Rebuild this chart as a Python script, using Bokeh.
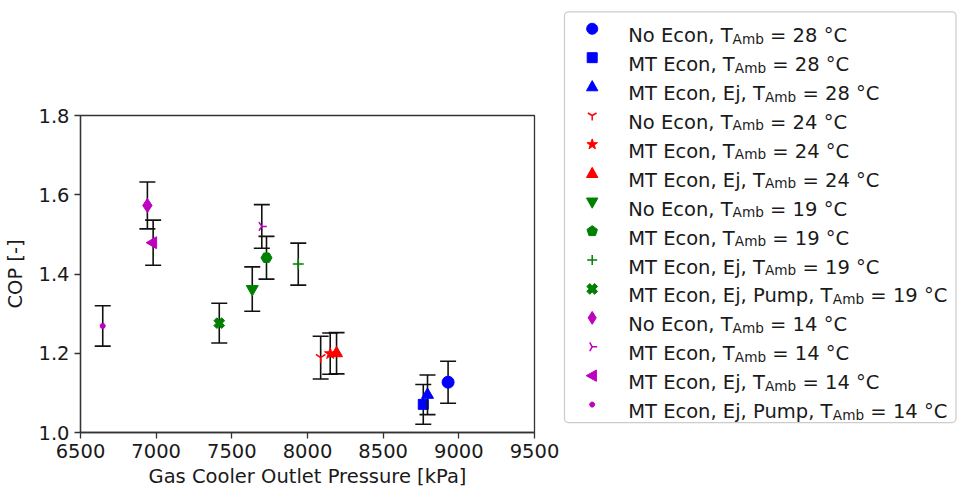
import math
from bokeh.plotting import figure
from bokeh.models import Range1d, FixedTicker, PrintfTickFormatter, ColumnDataSource
from bokeh.core.properties import value
from bokeh.embed import file_html
from bokeh.resources import INLINE

# ---------------- data ----------------
configs = ["No Econ", "MT Econ", "MT Econ, Ej",
           "No Econ", "MT Econ", "MT Econ, Ej",
           "No Econ", "MT Econ", "MT Econ, Ej", "MT Econ, Ej, Pump",
           "No Econ", "MT Econ", "MT Econ, Ej", "MT Econ, Ej, Pump"]
t_amb = [28, 28, 28, 24, 24, 24, 19, 19, 19, 19, 14, 14, 14, 14]
pressure = [8929, 8765, 8793, 8087, 8150, 8192, 7635, 7729, 7939, 7417, 6942, 7698, 6980, 6647]
cop = [1.127, 1.071, 1.095, 1.189, 1.199, 1.200, 1.362, 1.441, 1.425, 1.276, 1.573, 1.520, 1.479, 1.269]
cop_err = [0.053, 0.050, 0.050, 0.054, 0.052, 0.052, 0.056, 0.054, 0.053, 0.050, 0.059, 0.055, 0.057, 0.051]
x_ticks = [6500, 7000, 7500, 8000, 8500, 9000, 9500]
y_ticks = [1.0, 1.2, 1.4, 1.6, 1.8]

# ---------------- styles ----------------
temp_colors = {28: "#0000ff", 24: "#ff0000", 19: "#008000", 14: "#bf00bf"}
# (bokeh marker, size, angle, line_only, legend shape)
marker_styles = [
    ("circle", 12, 0.0, False, "circle"),
    ("square", 10, 0.0, False, "square"),
    ("triangle", 12, 0.0, False, "tri_up"),
    ("y", 11, 0.0, True, "y_down"),
    ("star", 12, 0.0, False, "star"),
    ("triangle", 12, 0.0, False, "tri_up"),
    ("inverted_triangle", 12, 0.0, False, "tri_down"),
    ("hex", 11, 0.0, False, "pentagon"),
    ("cross", 11, 0.0, True, "plus"),
    ("plus", 11, math.pi / 4, False, "xfilled"),
    ("diamond", 14, 0.0, False, "diamond"),
    ("y", 10, math.pi / 2, True, "y_right"),
    ("triangle", 12, math.pi / 2, False, "tri_left"),
    ("circle", 5, 0.0, False, "dot"),
]

FONT = "DejaVu Sans"
FS = 19.5
TXT = "#1a1a1a"

W, H = 957, 490
FL, FT, FW, FH = 80, 115, 454, 318   # frame left, top, width, height (px)
X0, X1 = 6500, 9500
Y0, Y1 = 1.0, 1.8

# ---------------- main plot ----------------
p = figure(width=W, height=H, x_range=Range1d(X0, X1), y_range=Range1d(Y0, Y1),
           output_backend="svg", toolbar_location=None,
           min_border_left=FL, min_border_right=W - FL - FW,
           min_border_top=FT, min_border_bottom=H - FT - FH)
p.grid.visible = False
p.background_fill_color = "white"
p.border_fill_color = "white"
p.outline_line_color = "#333333"
p.outline_line_width = 1.3

for ax in (p.xaxis[0], p.yaxis[0]):
    ax.axis_line_color = "#333333"
    ax.axis_line_width = 1.3
    ax.major_tick_line_color = "#333333"
    ax.major_tick_line_width = 1.3
    ax.major_tick_in = 0
    ax.major_tick_out = 6
    ax.minor_tick_line_color = None
    ax.major_label_text_font = FONT
    ax.major_label_text_font_size = f"{FS}px"
    ax.major_label_text_color = TXT
    ax.major_label_standoff = 5
    ax.axis_label_text_font = FONT
    ax.axis_label_text_font_size = f"{FS}px"
    ax.axis_label_text_font_style = "normal"
    ax.axis_label_text_color = TXT

p.xaxis.ticker = FixedTicker(ticks=x_ticks)
p.yaxis.ticker = FixedTicker(ticks=y_ticks)
p.yaxis.formatter = PrintfTickFormatter(format="%.1f")
p.xaxis.axis_label = "Gas Cooler Outlet Pressure [kPa]"
p.yaxis.axis_label = "COP [-]"
p.xaxis.axis_label_standoff = 4
p.yaxis.axis_label_standoff = 8

for i in range(len(pressure)):
    col = temp_colors[t_amb[i]]
    mk, sz, ang, line_only, _ = marker_styles[i]
    lo = cop[i] - cop_err[i]
    hi = cop[i] + cop_err[i]
    src = ColumnDataSource(dict(x=[pressure[i]], y=[cop[i]], lo=[lo], hi=[hi]))
    p.segment(x0="x", y0="lo", x1="x", y1="hi", source=src, line_color="#111111", line_width=1.6)
    p.scatter(x="x", y="lo", source=src, marker="dash", size=16, line_color="#111111", line_width=1.6)
    p.scatter(x="x", y="hi", source=src, marker="dash", size=16, line_color="#111111", line_width=1.6)
    if line_only:
        p.scatter(x="x", y="y", source=src, marker=mk, size=sz, angle=ang,
                  line_color=col, line_width=1.5, fill_color=None)
    else:
        p.scatter(x="x", y="y", source=src, marker=mk, size=sz, angle=ang,
                  line_color=col, fill_color=col)


# ---------------- legend (unclipped overlay glyphs outside the frame) ----------------
def sx(px):
    return X0 + (px - FL) * (X1 - X0) / FW


def sy(py):
    return Y1 - (py - FT) * (Y1 - Y0) / FH


def ring(n, r, start=-90.0, inner=None):
    pts = []
    for k in range(n):
        a = math.radians(start + 360.0 * k / n)
        pts.append((r * math.cos(a), r * math.sin(a)))
        if inner is not None:
            a2 = math.radians(start + 360.0 * (k + 0.5) / n)
            pts.append((inner * math.cos(a2), inner * math.sin(a2)))
    return pts


def shape_points(shape, s):
    r = s / 2.0
    if shape == "circle":
        return ring(28, r)
    if shape == "dot":
        return ring(16, r)
    if shape == "square":
        return [(-r, -r), (r, -r), (r, r), (-r, r)]
    if shape == "tri_up":
        return [(0, -r), (r * 0.95, r * 0.7), (-r * 0.95, r * 0.7)]
    if shape == "tri_down":
        return [(0, r), (r * 0.95, -r * 0.7), (-r * 0.95, -r * 0.7)]
    if shape == "tri_left":
        return [(-r, 0), (r * 0.7, -r * 0.95), (r * 0.7, r * 0.95)]
    if shape == "star":
        return ring(5, r, inner=r * 0.4)
    if shape == "pentagon":
        return ring(5, r)
    if shape == "diamond":
        return [(0, -r), (r * 0.62, 0), (0, r), (-r * 0.62, 0)]
    if shape == "xfilled":
        t = r * 0.38
        base = [(-t, -r), (t, -r), (t, -t), (r, -t), (r, t), (t, t), (t, r), (-t, r), (-t, t), (-r, t), (-r, -t), (-t, -t)]
        c, sn = math.cos(math.pi / 4), math.sin(math.pi / 4)
        return [(x * c - y * sn, x * sn + y * c) for x, y in base]
    if shape == "plus":
        return [(-r, 0), (r, 0), (0, 0), (0, -r), (0, r)]
    if shape == "y_down":
        return [(0, r), (0, 0), (-0.87 * r, -0.5 * r), (0, 0), (0.87 * r, -0.5 * r)]
    if shape == "y_right":
        return [(r, 0), (0, 0), (-0.5 * r, -0.87 * r), (0, 0), (-0.5 * r, 0.87 * r)]
    return ring(12, r)


def rounded_rect(l, t, rgt, b, rad):
    pts = []
    corners = [(rgt - rad, t + rad, -90), (rgt - rad, b - rad, 0), (l + rad, b - rad, 90), (l + rad, t + rad, 180)]
    for cx, cy, a0 in corners:
        for k in range(7):
            a = math.radians(a0 + 15 * k)
            pts.append((cx + rad * math.cos(a), cy + rad * math.sin(a)))
    return pts


box = rounded_rect(564, 11, 955.5, 423, 4)
p.patch(x=[sx(x) for x, _ in box], y=[sy(y) for _, y in box],
        fill_color="white", line_color="#cccccc", line_width=1.2, level="overlay")

legend_sizes = {"circle": 11, "dot": 5, "square": 10, "tri_up": 12, "tri_down": 12,
                "tri_left": 12, "star": 11, "pentagon": 11, "diamond": 13, "xfilled": 11,
                "plus": 10, "y_down": 10, "y_right": 10}

# DejaVu Sans advance widths (em)
adv = {" ": 0.318, ",": 0.318, ".": 0.318, "=": 0.838, "A": 0.684, "C": 0.698, "E": 0.632,
       "M": 0.863, "N": 0.748, "P": 0.603, "T": 0.611, "b": 0.635, "c": 0.550, "j": 0.278,
       "m": 0.974, "n": 0.634, "o": 0.612, "p": 0.635, "u": 0.634, "°": 0.5}
for d in "0123456789":
    adv[d] = 0.636


def text_width(s, size):
    return sum(adv.get(ch, 0.6) for ch in s) * size


SUB_FS = FS * 0.7
mark_px = 591.7
text_px = 627.7
row0 = 28.0
row_step = 29.0

pre_x, pre_y, pre_t = [], [], []
sub_x, sub_y, sub_t = [], [], []
suf_x, suf_y, suf_t = [], [], []
for i in range(len(configs)):
    yc = row0 + row_step * i
    col = temp_colors[t_amb[i]]
    shape = marker_styles[i][4]
    line_only = marker_styles[i][3]
    pts = shape_points(shape, legend_sizes[shape])
    xs = [sx(mark_px + dx) for dx, _ in pts]
    ys = [sy(yc + dy) for _, dy in pts]
    if line_only:
        p.line(x=xs, y=ys, line_color=col, line_width=1.5, level="overlay")
    else:
        p.patch(x=xs, y=ys, fill_color=col, line_color=col, line_width=1.0, level="overlay")
    prefix = f"{configs[i]}, T"
    sub = "Amb"
    suffix = f"= {t_amb[i]} °C"
    x1 = text_px + text_width(prefix, FS)
    x2 = x1 + text_width(sub, SUB_FS) + text_width(" ", FS)
    pre_x.append(sx(text_px)); pre_y.append(sy(yc + 7)); pre_t.append(prefix)
    sub_x.append(sx(x1)); sub_y.append(sy(yc + 10)); sub_t.append(sub)
    suf_x.append(sx(x2)); suf_y.append(sy(yc + 7)); suf_t.append(suffix)

p.text(x=pre_x, y=pre_y, text=pre_t, text_font=value(FONT), text_font_size=value(f"{FS}px"),
       text_baseline="alphabetic", text_align="left", text_color=TXT, level="overlay")
p.text(x=sub_x, y=sub_y, text=sub_t, text_font=value(FONT), text_font_size=value(f"{SUB_FS:.2f}px"),
       text_baseline="alphabetic", text_align="left", text_color=TXT, level="overlay")
p.text(x=suf_x, y=suf_y, text=suf_t, text_font=value(FONT), text_font_size=value(f"{FS}px"),
       text_baseline="alphabetic", text_align="left", text_color=TXT, level="overlay")

open("out.html", "w").write(file_html(p, INLINE))
